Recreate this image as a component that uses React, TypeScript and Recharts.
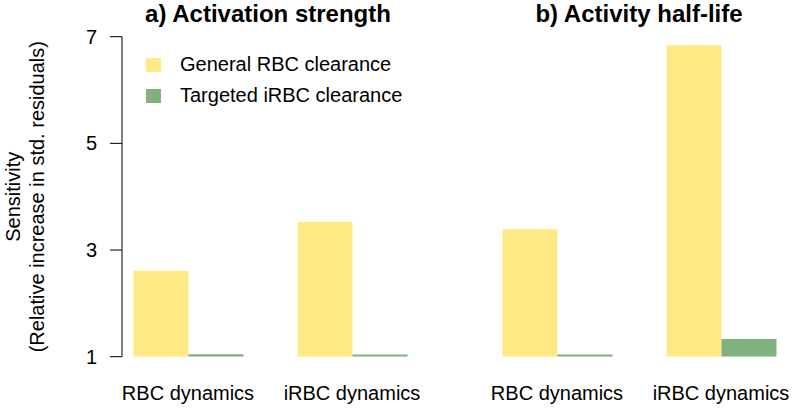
import { Bar, BarChart, XAxis, YAxis, Legend } from 'recharts'

const categories = ['RBC dynamics', 'iRBC dynamics']
const activationGeneral = [2.61, 3.53]
const activationTargeted = [1.045, 1.04]
const halfLifeGeneral = [3.39, 6.84]
const halfLifeTargeted = [1.04, 1.33]
const yTicks = [1, 3, 5, 7]
const seriesNames = ['General RBC clearance', 'Targeted iRBC clearance']
const panelTitles = ['a) Activation strength', 'b) Activity half-life']

const YELLOW = '#FFE985'
const GREEN = '#7FB27E'
const FONT = '"Liberation Sans", Arial, Helvetica, sans-serif'

const panelA = categories.map((name, i) => ({ name, general: activationGeneral[i], targeted: activationTargeted[i] }))
const panelB = categories.map((name, i) => ({ name, general: halfLifeGeneral[i], targeted: halfLifeTargeted[i] }))

// x axis reserves 30px below the plot, so bottom margin is 52.3 - 30
const MARGIN = { top: 36.7, bottom: 22.3, left: 0, right: 0 }
const H = 409

const LegendBox = () => (
  <div style={{ fontFamily: FONT, fontSize: 20, color: '#000' }}>
    {seriesNames.map((s, i) => (
      <div key={s} style={{ display: 'flex', alignItems: 'center', height: 31 }}>
        <div style={{ width: 15, height: 14, background: i === 0 ? YELLOW : GREEN }} />
        <span style={{ marginLeft: 19, whiteSpace: 'nowrap' }}>{s}</span>
      </div>
    ))}
  </div>
)

const Panel: React.FC<{ data: typeof panelA; withLegend?: boolean }> = ({ data, withLegend }) => (
  <BarChart width={328} height={H} data={data} margin={MARGIN} barCategoryGap={27.5} barGap={0}>
    <XAxis
      dataKey='name'
      height={30}
      tickLine={false}
      axisLine={false}
      tickSize={0}
      tickMargin={29}
      interval={0}
      tick={{ fill: '#000', fontSize: 20, fontFamily: FONT }}
    />
    <YAxis hide type='number' domain={[1, 7]} allowDataOverflow />
    {withLegend && (
      <Legend
        layout='vertical'
        align='center'
        verticalAlign='middle'
        content={() => <LegendBox />}
        wrapperStyle={{ left: 40, top: 49, width: 300 }}
      />
    )}
    <Bar dataKey='general' name={seriesNames[0]} fill={YELLOW} isAnimationActive={false} />
    <Bar dataKey='targeted' name={seriesNames[1]} fill={GREEN} isAnimationActive={false} />
  </BarChart>
)

export default function App() {
  return (
    <div style={{ position: 'absolute', left: 0, top: 0, width: 794, height: H, overflow: 'hidden', background: '#fff', fontFamily: FONT }}>
      {/* y axis on its own so the bars can sit where they do in the original */}
      <div style={{ position: 'absolute', left: 0, top: 0 }}>
        <BarChart width={130} height={H} data={panelA} margin={{ ...MARGIN, right: 8 }}>
          <XAxis dataKey='name' height={30} tick={false} tickLine={false} axisLine={false} />
          <YAxis
            type='number'
            domain={[1, 7]}
            ticks={yTicks}
            interval={0}
            width={122}
            tickSize={12}
            tickMargin={13}
            stroke='#000'
            tick={{ fill: '#000', fontSize: 20, fontFamily: FONT }}
          />
          <Bar dataKey='general' fill='transparent' legendType='none' isAnimationActive={false} />
        </BarChart>
      </div>
      <div style={{ position: 'absolute', left: 106, top: 0 }}>
        <Panel data={panelA} withLegend />
      </div>
      <div style={{ position: 'absolute', left: 475, top: 0 }}>
        <Panel data={panelB} />
      </div>
      <svg width={794} height={H} style={{ position: 'absolute', left: 0, top: 0, pointerEvents: 'none' }}>
        <text x={268} y={22} textAnchor='middle' fontSize={24} fontWeight='bold' fontFamily={FONT}>{panelTitles[0]}</text>
        <text x={639} y={22} textAnchor='middle' fontSize={24} fontWeight='bold' fontFamily={FONT}>{panelTitles[1]}</text>
        <text transform='translate(20,196.7) rotate(-90)' textAnchor='middle' fontSize={20} fontFamily={FONT}>Sensitivity</text>
        <text transform='translate(44,196.7) rotate(-90)' textAnchor='middle' fontSize={20} fontFamily={FONT}>(Relative increase in std. residuals)</text>
      </svg>
    </div>
  )
}
